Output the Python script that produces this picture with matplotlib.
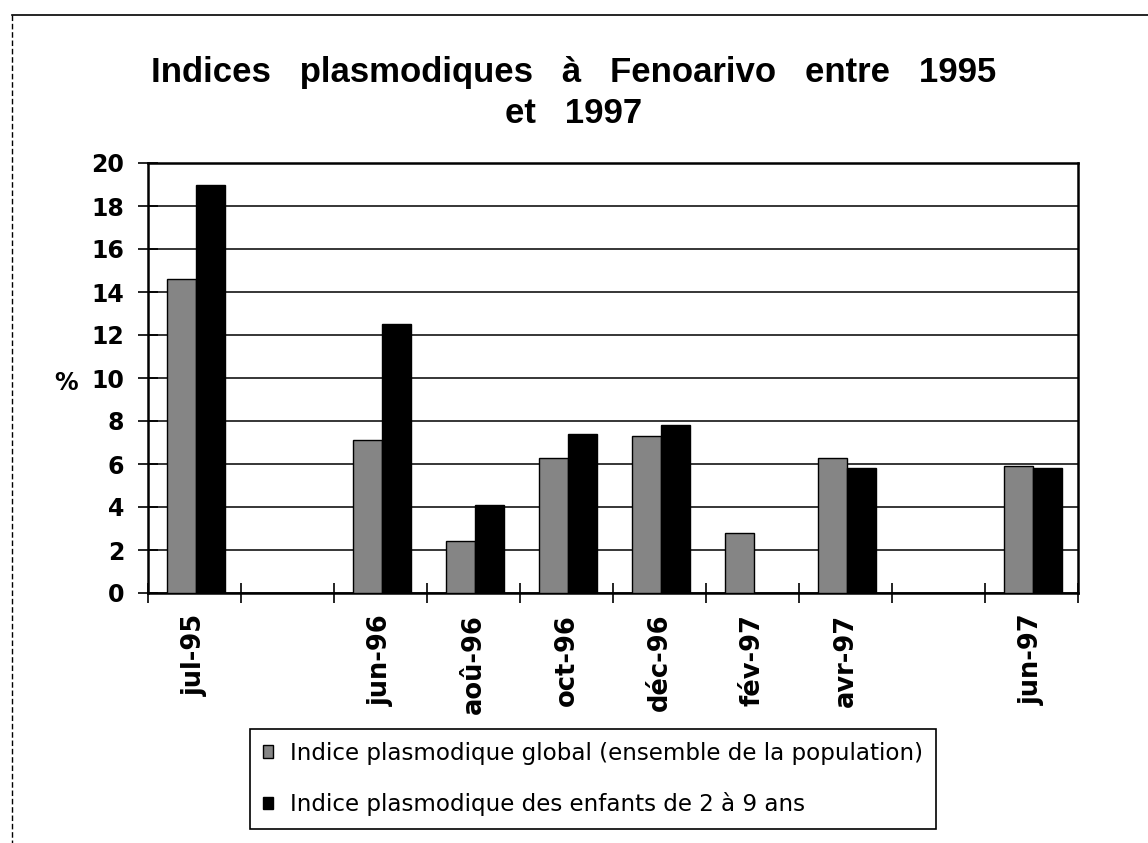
import numpy as np
import matplotlib
matplotlib.use("Agg")
import matplotlib.pyplot as plt
from matplotlib.lines import Line2D

# ---- data ----
categories = ['jul-95', '', 'jun-96', 'aoû-96', 'oct-96', 'déc-96', 'fév-97', 'avr-97', '', 'jun-97']
ip_global = [14.6, np.nan, 7.1, 2.4, 6.3, 7.3, 2.8, 6.3, np.nan, 5.9]
ip_enfants = [19.0, np.nan, 12.5, 4.1, 7.4, 7.8, np.nan, 5.8, np.nan, 5.8]
series_labels = ['Indice plasmodique global (ensemble de la population)',
                 'Indice plasmodique des enfants de 2 à 9 ans']
title_lines = ['Indices   plasmodiques   à   Fenoarivo   entre   1995', 'et   1997']
y_ticks = [0, 2, 4, 6, 8, 10, 12, 14, 16, 18, 20]

W, H = 1148, 843
fig = plt.figure(figsize=(W / 100, H / 100), dpi=100)
fig.patch.set_facecolor('white')

def fx(px):
    return px / W

def fy(py):
    return 1 - py / H

ax = fig.add_axes([fx(148), fy(593), fx(1078) - fx(148), fy(163) - fy(593)])

x = np.arange(len(categories))
bw = 0.31
ax.bar(x - bw / 2 + 0.015, ip_global, width=bw, color='#858585', edgecolor='black',
       linewidth=1.0, label=series_labels[0], zorder=3)
ax.bar(x + bw / 2 + 0.015, ip_enfants, width=bw, color='black', edgecolor='black',
       linewidth=1.0, label=series_labels[1], zorder=3)

ax.set_xlim(-0.5, len(categories) - 0.5)
ax.set_ylim(0, 20)
ax.set_yticks(y_ticks)
ax.set_yticklabels([str(v) for v in y_ticks], fontsize=17, fontweight='bold')
ax.yaxis.grid(True, color='black', linewidth=1.1, zorder=0)
ax.set_axisbelow(True)

# ticks at category boundaries, labels at centres
ax.set_xticks(np.arange(-0.5, len(categories), 1.0))
ax.set_xticklabels([])
ax.set_xticks(x, minor=True)
ax.set_xticklabels(categories, minor=True, rotation=90, fontsize=18.5,
                   fontweight='bold', va='top', ha='center')
ax.tick_params(axis='x', which='major', direction='inout', length=14, width=1.2)
ax.tick_params(axis='x', which='minor', length=0, pad=15)
ax.tick_params(axis='y', direction='inout', length=14, width=1.2, pad=10)

for s in ax.spines.values():
    s.set_linewidth(1.8)
    s.set_color('black')

fig.text(fx(66), fy(383), '%', fontsize=17, fontweight='bold', ha='center', va='center')

# title
fig.text(0.5, fy(82), title_lines[0], fontsize=25, fontweight='bold',
         family='Liberation Sans', ha='center', va='baseline')
fig.text(0.5, fy(123), title_lines[1], fontsize=25, fontweight='bold',
         family='Liberation Sans', ha='center', va='baseline')

# legend
leg = fig.legend(loc='upper left', bbox_to_anchor=(fx(250), fy(729)),
                 bbox_transform=fig.transFigure, fontsize=16.6, frameon=True,
                 fancybox=False, framealpha=1, edgecolor='black',
                 handlelength=0.45, handleheight=0.45, handletextpad=0.75,
                 labelspacing=1.2, borderpad=0.55, borderaxespad=0)
leg.get_frame().set_linewidth(1.2)

# page border lines
fig.add_artist(Line2D([fx(12), 1.0], [fy(15), fy(15)], transform=fig.transFigure,
                      color='black', linewidth=1.2))
fig.add_artist(Line2D([fx(12), fx(12)], [fy(15), 0.0], transform=fig.transFigure,
                      color='black', linewidth=1.0, linestyle=(0, (4, 2))))

fig.savefig('out.png', dpi=100, facecolor='white')
